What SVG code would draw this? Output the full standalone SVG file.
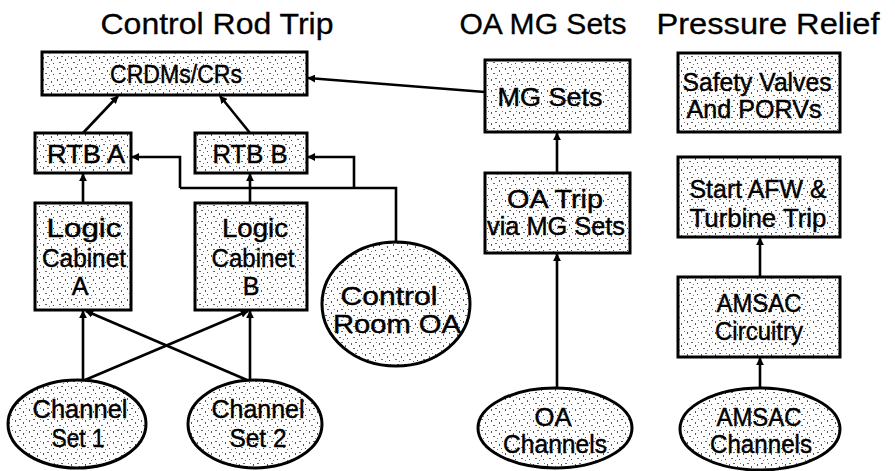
<svg xmlns="http://www.w3.org/2000/svg" width="895" height="471" viewBox="0 0 895 471">
<style>
.t{font-family:"Liberation Sans",Arial,sans-serif;fill:#000;text-anchor:middle;stroke:#000;stroke-width:0.45}
.h{font-size:29px;stroke-width:0.3}
.n{font-size:25px}
.box{fill:url(#speck);stroke:#000;stroke-width:3}
.c{fill:none;stroke:#000;stroke-width:2.6;marker-end:url(#ah)}
.l{fill:none;stroke:#000;stroke-width:2.6}
</style>
<defs>
<pattern id="speck" width="14" height="11" patternUnits="userSpaceOnUse">
<rect width="14" height="11" fill="#fff"/>
<rect x="1" y="2" width="1" height="2" fill="#555"/>
<rect x="5" y="1" width="2" height="1" fill="#666"/>
<rect x="9" y="4" width="1" height="2" fill="#555"/>
<rect x="3" y="7" width="2" height="1" fill="#666"/>
<rect x="11" y="8" width="1" height="1" fill="#444"/>
<rect x="7" y="9" width="1" height="1" fill="#777"/>
<rect x="12" y="1" width="1" height="1" fill="#777"/>
</pattern>
<marker id="ah" viewBox="0 0 10 10" refX="9" refY="5" markerWidth="8" markerHeight="8" markerUnits="userSpaceOnUse" orient="auto">
<path d="M0,0 L10,5 L0,10 z" fill="#000"/>
</marker>
</defs>
<rect width="895" height="471" fill="#fff"/>

<g id="titles">
<text class="t h" x="217" y="34" textLength="233" lengthAdjust="spacingAndGlyphs">Control Rod Trip</text>
<text class="t h" x="543" y="34" textLength="167" lengthAdjust="spacingAndGlyphs">OA MG Sets</text>
<text class="t h" x="768" y="34" textLength="223" lengthAdjust="spacingAndGlyphs">Pressure Relief</text>
</g>

<g id="connectors">
<line class="c" x1="83" y1="133" x2="118" y2="96"/>
<line class="c" x1="250" y1="133" x2="220" y2="96"/>
<line class="c" x1="485" y1="92" x2="308" y2="78"/>
<line class="c" x1="83" y1="203" x2="83" y2="174"/>
<line class="c" x1="250" y1="203" x2="250" y2="174"/>
<polyline class="l" points="396,243 396,188 180,188"/>
<polyline class="c" points="180,188 180,157 132,157"/>
<polyline class="c" points="354,188 354,157 308,157"/>
<line class="c" x1="83" y1="380" x2="83" y2="311"/>
<line class="c" x1="85" y1="380" x2="248" y2="311"/>
<line class="c" x1="250" y1="380" x2="250" y2="311"/>
<line class="c" x1="247" y1="380" x2="86" y2="311"/>
<line class="c" x1="557" y1="173" x2="557" y2="133"/>
<line class="c" x1="557" y1="388" x2="557" y2="254"/>
<line class="c" x1="760" y1="277" x2="760" y2="238"/>
<line class="c" x1="760" y1="388" x2="760" y2="358"/>
</g>

<g id="crdms">
<rect class="box" x="42" y="52" width="265" height="43"/>
<text class="t n" x="176" y="83" textLength="132" lengthAdjust="spacingAndGlyphs">CRDMs/CRs</text>
</g>
<g id="rtbA">
<rect class="box" x="35" y="133" width="96" height="40"/>
<text class="t n" x="86" y="163" textLength="78" lengthAdjust="spacingAndGlyphs">RTB A</text>
</g>
<g id="rtbB">
<rect class="box" x="195" y="133" width="112" height="40"/>
<text class="t n" x="250" y="163" textLength="75" lengthAdjust="spacingAndGlyphs">RTB B</text>
</g>
<g id="logicA">
<rect class="box" x="35" y="203" width="96" height="107"/>
<text class="t n" x="84" y="237" textLength="75" lengthAdjust="spacingAndGlyphs">Logic</text>
<text class="t n" x="84" y="267" textLength="84" lengthAdjust="spacingAndGlyphs">Cabinet</text>
<text class="t n" x="80" y="295">A</text>
</g>
<g id="logicB">
<rect class="box" x="195" y="203" width="112" height="107"/>
<text class="t n" x="255" y="237" textLength="66" lengthAdjust="spacingAndGlyphs">Logic</text>
<text class="t n" x="253" y="267" textLength="83" lengthAdjust="spacingAndGlyphs">Cabinet</text>
<text class="t n" x="251" y="295">B</text>
</g>
<g id="controlRoomOA">
<ellipse class="box" cx="396" cy="304" rx="74" ry="62"/>
<text class="t n" x="389" y="305" textLength="97" lengthAdjust="spacingAndGlyphs">Control</text>
<text class="t n" x="397" y="333" textLength="128" lengthAdjust="spacingAndGlyphs">Room OA</text>
</g>
<g id="channelSet1">
<ellipse class="box" cx="77" cy="424" rx="69" ry="44"/>
<text class="t n" x="80" y="418" textLength="95" lengthAdjust="spacingAndGlyphs">Channel</text>
<text class="t n" x="78" y="447" textLength="53" lengthAdjust="spacingAndGlyphs">Set 1</text>
</g>
<g id="channelSet2">
<ellipse class="box" cx="255" cy="424" rx="67" ry="44"/>
<text class="t n" x="258" y="418" textLength="93" lengthAdjust="spacingAndGlyphs">Channel</text>
<text class="t n" x="258" y="447" textLength="57" lengthAdjust="spacingAndGlyphs">Set 2</text>
</g>
<g id="mgSets">
<rect class="box" x="485" y="60" width="145" height="72"/>
<text class="t n" x="550" y="106" textLength="105" lengthAdjust="spacingAndGlyphs">MG Sets</text>
</g>
<g id="oaTrip">
<rect class="box" x="485" y="173" width="145" height="80"/>
<text class="t n" x="555" y="208" textLength="96" lengthAdjust="spacingAndGlyphs">OA Trip</text>
<text class="t n" x="556" y="235" textLength="138" lengthAdjust="spacingAndGlyphs">via MG Sets</text>
</g>
<g id="oaChannels">
<ellipse class="box" cx="555" cy="428" rx="77" ry="40"/>
<text class="t n" x="553" y="426" textLength="37" lengthAdjust="spacingAndGlyphs">OA</text>
<text class="t n" x="555" y="453" textLength="104" lengthAdjust="spacingAndGlyphs">Channels</text>
</g>
<g id="safetyValves">
<rect class="box" x="678" y="53" width="162" height="79"/>
<text class="t n" x="757" y="91" textLength="149" lengthAdjust="spacingAndGlyphs">Safety Valves</text>
<text class="t n" x="754" y="118" textLength="135" lengthAdjust="spacingAndGlyphs">And PORVs</text>
</g>
<g id="startAFW">
<rect class="box" x="678" y="157" width="162" height="80"/>
<text class="t n" x="758" y="198" textLength="137" lengthAdjust="spacingAndGlyphs">Start AFW &amp;</text>
<text class="t n" x="758" y="227" textLength="137" lengthAdjust="spacingAndGlyphs">Turbine Trip</text>
</g>
<g id="amsacCircuitry">
<rect class="box" x="678" y="277" width="162" height="80"/>
<text class="t n" x="759" y="312" textLength="85" lengthAdjust="spacingAndGlyphs">AMSAC</text>
<text class="t n" x="759" y="340" textLength="88" lengthAdjust="spacingAndGlyphs">Circuitry</text>
</g>
<g id="amsacChannels">
<ellipse class="box" cx="760" cy="429" rx="80" ry="41"/>
<text class="t n" x="759" y="426" textLength="85" lengthAdjust="spacingAndGlyphs">AMSAC</text>
<text class="t n" x="761" y="453" textLength="102" lengthAdjust="spacingAndGlyphs">Channels</text>
</g>
</svg>
